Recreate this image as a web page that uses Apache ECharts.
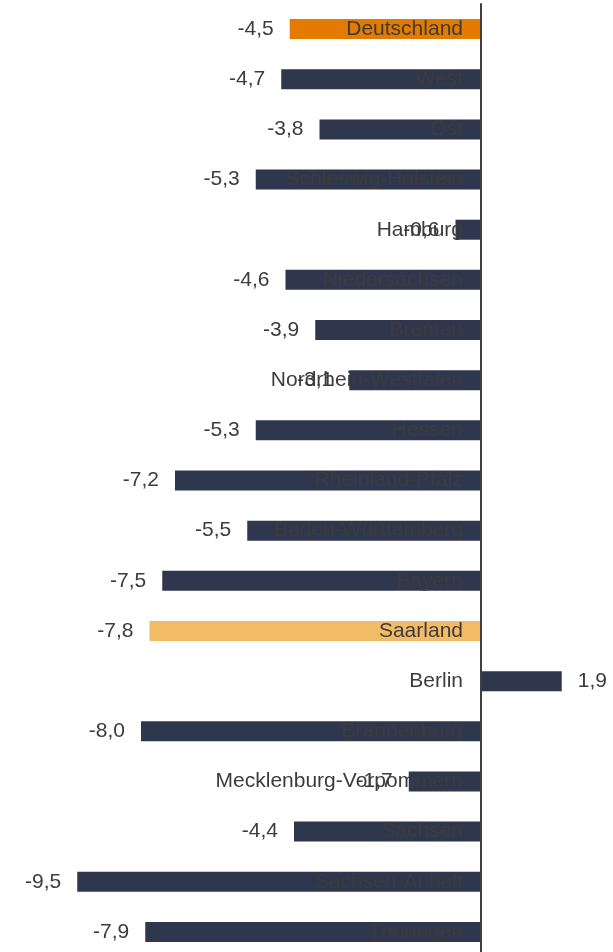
<!DOCTYPE html>
<html>
<head>
<meta charset="utf-8">
<script src="https://cdn.jsdelivr.net/npm/echarts@6/dist/echarts.min.js"></script>
<style>
  html, body { margin: 0; padding: 0; background: #fff; }
  #chart { width: 613px; height: 952px; }
</style>
</head>
<body>
<div id="chart"></div>
<script>
// Länder, von oben nach unten
const regions = [
  'Deutschland', 'West', 'Ost', 'Schleswig-Holstein', 'Hamburg', 'Niedersachsen',
  'Bremen', 'Nordrhein-Westfalen', 'Hessen', 'Rheinland-Pfalz', 'Baden-Württemberg',
  'Bayern', 'Saarland', 'Berlin', 'Brandenburg', 'Mecklenburg-Vorpommern',
  'Sachsen', 'Sachsen-Anhalt', 'Thüringen'
];
const values = [
  -4.5, -4.7, -3.8, -5.3, -0.6, -4.6,
  -3.9, -3.1, -5.3, -7.2, -5.5,
  -7.5, -7.8, 1.9, -8.0, -1.7,
  -4.4, -9.5, -7.9
];

const navy = '#2f374f';
const highlight = { 'Deutschland': '#e37b00', 'Saarland': '#f2bb66' };
const textColor = '#3c3c3c';

const chart = echarts.init(document.getElementById('chart'));

const option = {
  animation: false,
  grid: { left: 56, right: 4.5, top: 4, bottom: -5, containLabel: false, outerBoundsMode: 'none' },
  xAxis: {
    type: 'value',
    min: -10,
    max: 3,
    show: false
  },
  yAxis: {
    type: 'category',
    data: regions,
    inverse: true,
    z: 5,
    // Achse auf die Nulllinie schieben (Labels mit)
    offset: -425,
    axisLine: { show: true, onZero: false, lineStyle: { color: '#404040', width: 2 } },
    axisTick: { show: false },
    axisLabel: {
      margin: 18,
      fontSize: 21,
      fontFamily: 'Liberation Sans, Arial, sans-serif',
      color: textColor
    },
    splitLine: { show: false }
  },
  series: [
    {
      type: 'bar',
      barWidth: 20,
      data: values.map((v, i) => ({
        value: v,
        itemStyle: { color: highlight[regions[i]] || navy },
        label: { position: v < 0 ? 'left' : 'right' }
      })),
      label: {
        show: true,
        distance: 16,
        fontSize: 21,
        fontFamily: 'Liberation Sans, Arial, sans-serif',
        color: textColor,
        formatter: p => p.value.toFixed(1).replace('.', ',')
      }
    }
  ]
};

chart.setOption(option);
</script>
</body>
</html>
